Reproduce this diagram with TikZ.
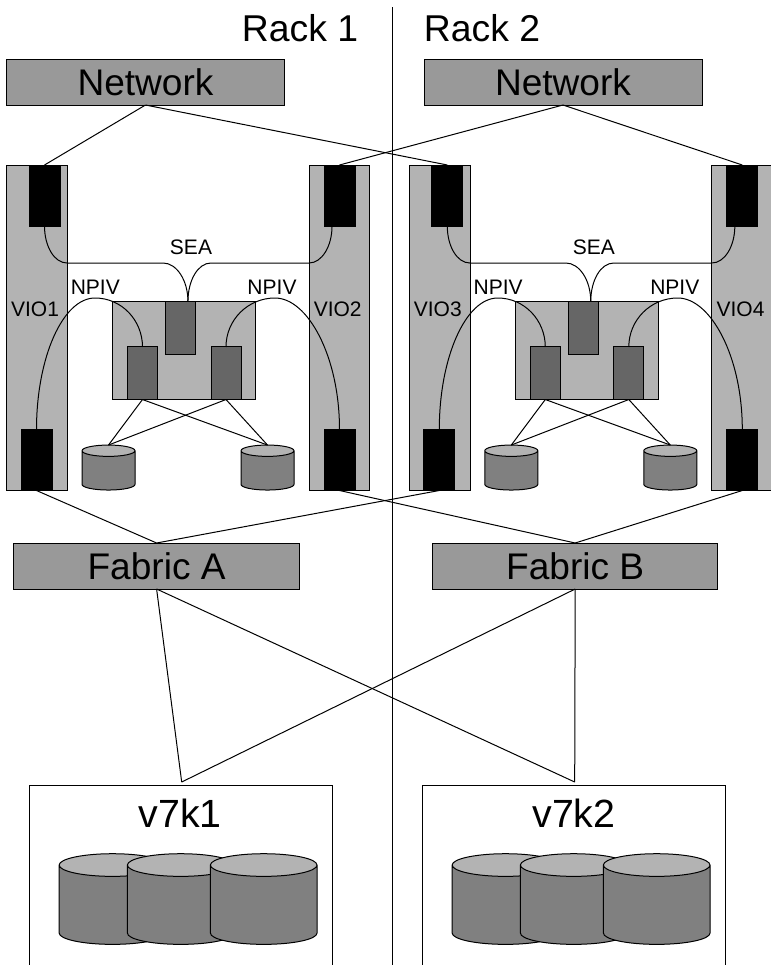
\documentclass[tikz,border=0pt]{standalone}
\usepackage{fontspec}
\setmainfont{Liberation Sans}
\usepackage{xcolor}
\usepackage{tikz}
\usetikzlibrary{positioning,shapes.geometric,calc}
\definecolor{viogrey}{HTML}{B3B3B3}
\definecolor{switchgrey}{HTML}{999999}
\definecolor{diskgrey}{HTML}{808080}
\definecolor{cardgrey}{HTML}{666666}

\begin{document}
\begin{tikzpicture}[
  x=0.75pt, y=-0.75pt,
  every node/.style={inner sep=0pt, outer sep=0pt},
  link/.style={draw=black, line width=0.75pt},
  bigtext/.style={font=\fontsize{28}{30}\selectfont, anchor=base},
  storetext/.style={font=\fontsize{29.5}{32}\selectfont, anchor=base},
  smalltext/.style={font=\fontsize{15.75}{18}\selectfont, anchor=base},
  switchbox/.style={link, fill=switchgrey, minimum width=208.5pt, minimum height=34.5pt,
                    font=\fontsize{27.8}{30}\selectfont},
  viobox/.style={link, fill=viogrey, minimum width=45.4pt, minimum height=243.75pt},
  lparbox/.style={link, fill=viogrey, minimum width=107.6pt, minimum height=73.5pt},
  adapter/.style={link, fill=black, minimum width=23.25pt, minimum height=45.75pt},
  vcard/.style={link, fill=cardgrey, minimum width=22.5pt, minimum height=39.4pt},
  storebox/.style={link, fill=white, minimum width=227pt, minimum height=142.5pt},
  disk/.style={cylinder, shape border rotate=90, link, cylinder uses custom fill,
               cylinder body fill=diskgrey, cylinder end fill=viogrey, shape aspect=0.85},
  smalldisk/.style={disk, inner sep=5pt, minimum width=39.75pt, minimum height=33.75pt},
  bigdisk/.style={disk, inner sep=10pt, minimum width=80pt, minimum height=68pt},
  intoflat/.style={out looseness=1.2, in looseness=0.75},
  fromflat/.style={out looseness=0.75, in looseness=1.2},
  npivbend/.style={out looseness=1.28, in looseness=0.57},
]
\useasboundingbox (0,0) rectangle (771,965);

\coordinate (railtop) at (392,7);
\coordinate (railend) at (392,965);
\draw[link] (railtop) -- (railend);

\node[bigtext] (rack1) at (300,41.7) {Rack 1};
\node[bigtext] (rack2) at (482,41.7) {Rack 2};
\node[switchbox] (net1) at (145.5,82) {Network};
\node[switchbox] (net2) at (563,82) {Network};

% one block per rack
\foreach \dx/\a/\b in {0/1/2,402.8/3/4}{
  \begin{scope}[xshift=\dx*0.75pt]
  \node[viobox] (vio\a) at (37,327.5) {};
  \node[viobox] (vio\b) at (339.3,327.5) {};
  \node[adapter] (ent\a) at (44.5,195.5) {};
  \node[adapter] (ent\b) at (339.5,195.5) {};
  \node[adapter] (hba\a) at (36.5,460) {};
  \node[adapter] (hba\b) at (339.5,460) {};
  \node[lparbox] (lpar\a) at (184.25,350.5) {};
  \node[vcard] (sea\a) at (180.75,327.75) {};
  \node[vcard] (npiv\a) at (142.5,373.25) {};
  \node[vcard] (npiv\b) at (226,373.25) {};
  \node[smalldisk] (disk\a) at (108.5,472.5) {};
  \node[smalldisk] (disk\b) at (267.5,472.5) {};

  \node[smalltext] at (35,316) {VIO\a};
  \node[smalltext] at (337.7,316) {VIO\b};
  \node[smalltext] at (191,254) {SEA};
  \node[smalltext] at (95.3,294) {NPIV};
  \node[smalltext] at (272,294) {NPIV};

  \coordinate (seatop\a) at ([xshift=5.4pt]sea\a.north);
  \draw[link] (ent\a.south) to[out=-90,in=180,intoflat] (67,263) -- (163,263) to[out=0,in=90,fromflat] (seatop\a);
  \draw[link] ([xshift=-5.6pt]ent\b.south) to[out=-90,in=0,intoflat] (309,263) -- (211,263) to[out=180,in=90,fromflat] (seatop\a);
  \draw[link] (hba\a.north) to[out=90,in=180,npivbend] (95,298) to[out=0,in=90] (npiv\a.north);
  \draw[link] (hba\b.north) to[out=90,in=0,npivbend] (275,298) to[out=180,in=90] (npiv\b.north);
  \draw[link] (npiv\a.south) -- (disk\a.north);
  \draw[link] (npiv\a.south) -- (disk\b.north);
  \draw[link] (npiv\b.south) -- (disk\a.north);
  \draw[link] (npiv\b.south) -- (disk\b.north);
  \end{scope}
}

\node[switchbox, minimum width=214pt] (fabA) at (156.6,566) {Fabric A};
\node[switchbox, minimum width=214pt] (fabB) at (575.2,566) {Fabric B};

\foreach \n/\x/\tx in {1/180.7/180.3,2/573.7/574}{
  \node[storebox] (v7k\n) at (\x,880) {};
  \node[storetext] (name\n) at (\tx,827.3) {v7k\n};
  \coordinate (drop\n) at ($(v7k\n.north)+(0.75pt,2.25pt)$);
  \node[bigdisk] (d\n a) at (\x-68.2,908.7) {};
  \node[bigdisk] (d\n b) at (\x,908.7) {};
  \node[bigdisk] (d\n c) at (\x+83,908.7) {};
}

\foreach \a/\b in {net1/ent1,net1/ent3,net2/ent2,net2/ent4}{ \draw[link] (\a.south) -- (\b.north); }
\foreach \a/\b in {hba1/fabA,hba3/fabA,hba2/fabB,hba4/fabB}{ \draw[link] (\a.south) -- (\b.north); }
\foreach \a/\b in {fabA/drop1,fabA/drop2,fabB/drop1,fabB/drop2}{ \draw[link] (\a.south) -- (\b); }
\end{tikzpicture}
\end{document}
